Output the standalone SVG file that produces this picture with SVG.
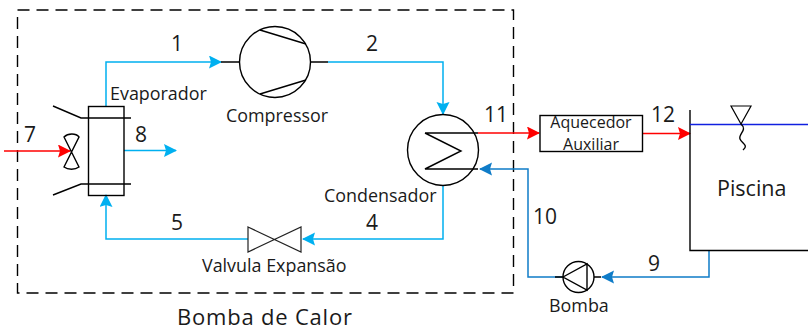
<svg xmlns="http://www.w3.org/2000/svg" width="808" height="331" viewBox="0 0 808 331">
<style>
text{font-family:"Open Sans","Noto Sans",sans-serif;fill:#1a1a1a}
.n{font-size:21px}
.l{font-size:17.900px}
.a{font-size:16px}
.s{fill:none;stroke:#000;stroke-width:1.400}
.c{fill:none;stroke:#00b0f0;stroke-width:1.500}
.d{fill:none;stroke:#0f7cc8;stroke-width:1.500}
.r{fill:none;stroke:#ff0000;stroke-width:1.500}
</style>
<defs>
<marker id="ac" markerUnits="userSpaceOnUse" markerWidth="14" markerHeight="14" refX="12" refY="6.500" orient="auto"><path d="M0 0L13 6.500L0 13L2 6.500Z" fill="#00b0f0"/></marker>
<marker id="ad" markerUnits="userSpaceOnUse" markerWidth="14" markerHeight="14" refX="12" refY="6.500" orient="auto"><path d="M0 0L13 6.500L0 13L2 6.500Z" fill="#0f7cc8"/></marker>
<marker id="ar" markerUnits="userSpaceOnUse" markerWidth="14" markerHeight="14" refX="12" refY="6.500" orient="auto"><path d="M0 0L13 6.500L0 13L2 6.500Z" fill="#ff0000"/></marker>
</defs>
<rect id="boundary" x="17.500" y="10" width="496" height="283" fill="none" stroke="#000" stroke-width="1.400" stroke-dasharray="12 7"/>
<g id="connectors">
<path class="c" d="M106 106V62H221" marker-end="url(#ac)"/>
<path class="c" d="M328 62H443V114" marker-end="url(#ac)"/>
<path class="c" d="M443 186V239H303" marker-end="url(#ac)"/>
<path class="c" d="M248 239H106V195" marker-end="url(#ac)"/>
<path class="c" d="M124 150.500H176" marker-end="url(#ac)"/>
<path class="r" d="M4 151H70" marker-end="url(#ar)"/>
<path class="r" d="M478 133H539" marker-end="url(#ar)"/>
<path class="r" d="M643 133.500H690" marker-end="url(#ar)"/>
<path class="d" d="M709 250V277H602" marker-end="url(#ad)"/>
<path class="d" d="M562 277H528V169H480" marker-end="url(#ad)"/>
</g>
<g id="evaporador">
<rect class="s" x="88.500" y="106.500" width="35.500" height="89"/>
<path class="s" d="M53 106L81 118H131M53 195L81 184H131"/>
<path class="s" d="M64 137C68 133 76 133 79 137L64 167C68 170 75 170 79 167Z" stroke-width="1.300"/>
<text class="l" x="110" y="100">Evaporador</text>
</g>
<g id="compressor">
<path class="s" d="M221 62H239M311 62H328"/>
<circle class="s" cx="275" cy="62" r="35.500"/>
<path class="s" d="M260 30L306 44M260 94L306 80"/>
<text class="l" x="226" y="122">Compressor</text>
</g>
<g id="condensador">
<circle class="s" cx="443" cy="150" r="35.500"/>
<path class="s" d="M425 133H478M478 169H425L461 151L425 133"/>
<text class="l" x="324" y="202">Condensador</text>
</g>
<g id="valvula">
<path d="M248 227L301 252V227L248 252Z" fill="none" stroke="#222" stroke-width="1.200"/>
<text class="l" x="202" y="272">Valvula Expansão</text>
</g>
<g id="aquecedor">
<rect class="s" x="540" y="115.500" width="102.500" height="36"/>
<text class="a" x="591" y="128" text-anchor="middle">Aquecedor</text>
<text class="a" x="591" y="150" text-anchor="middle">Auxiliar</text>
</g>
<g id="piscina">
<path class="s" d="M690 110V250.500H808"/>
<path d="M690 124.500H808" fill="none" stroke="#1020e0" stroke-width="1.500"/>
<path d="M731 106H751L741 124Z" fill="none" stroke="#000" stroke-width="1.200"/>
<path class="s" d="M741 124C748 130 738 134 740 139C742 144 749 145 743 150"/>
<text x="717" y="196" font-size="21.500">Piscina</text>
</g>
<g id="bomba">
<path class="s" d="M555 277H563M594 277H601"/>
<circle class="s" cx="578.500" cy="277" r="15.500"/>
<path class="s" d="M563 277L587 264V290Z"/>
<text class="l" x="549" y="312">Bomba</text>
</g>
<text class="n" x="171" y="51">1</text>
<text class="n" x="366" y="51">2</text>
<text class="n" x="366" y="230">4</text>
<text class="n" x="171" y="230">5</text>
<text class="n" x="24" y="142">7</text>
<text class="n" x="135" y="142">8</text>
<text class="n" x="648" y="271">9</text>
<text class="n" x="533" y="224">10</text>
<text class="n" x="484" y="122">11</text>
<text class="n" x="651" y="122">12</text>
<text x="177" y="324.500" font-size="22" letter-spacing="0.800">Bomba de Calor</text>
</svg>
